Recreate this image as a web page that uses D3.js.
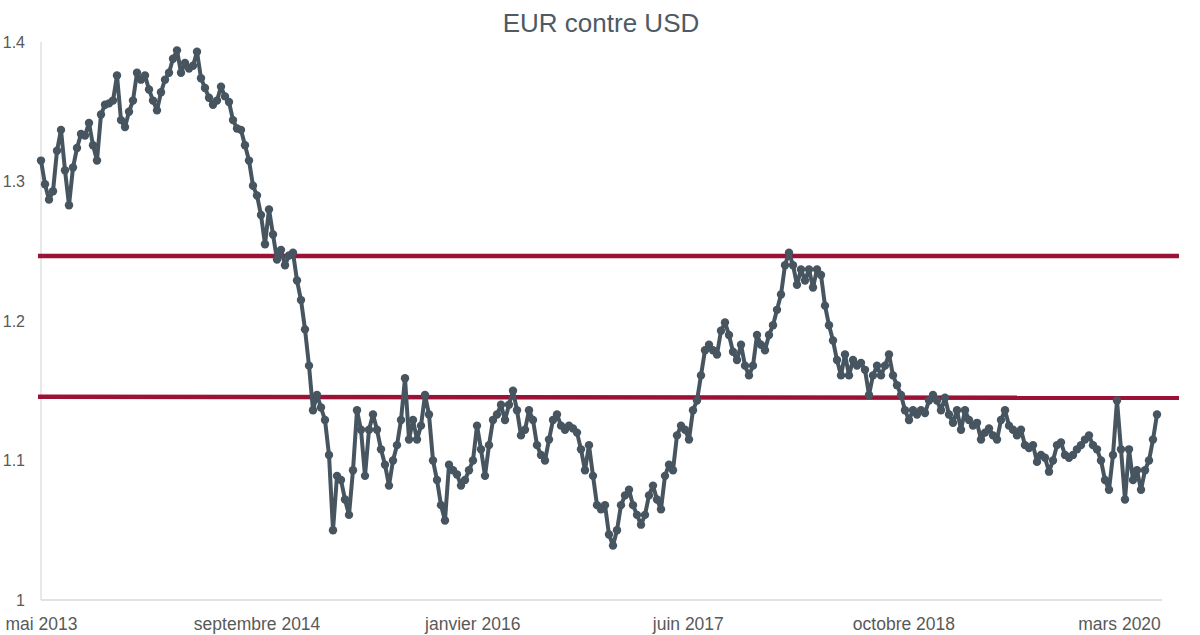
<!DOCTYPE html>
<html>
<head>
<meta charset="utf-8">
<script src="https://cdn.jsdelivr.net/npm/d3@7"></script>
<style>
  html, body { margin: 0; padding: 0; background: #ffffff; }
  svg { display: block; font-family: "Liberation Sans", Arial, Helvetica, sans-serif; }
</style>
</head>
<body>
<svg id="chart" width="1200" height="635"></svg>
<script>
// ---- data ----
const title = "EUR contre USD";

// EUR/USD rate, evenly spaced samples from May 2013 to early June 2020
const rates = [
  1.315,1.298,1.287,1.293,1.322,1.337,1.308,1.283,1.310,1.324,
  1.334,1.333,1.342,1.326,1.315,1.348,1.355,1.356,1.358,1.376,
  1.344,1.339,1.350,1.358,1.378,1.373,1.376,1.366,1.358,1.351,
  1.364,1.373,1.378,1.388,1.394,1.378,1.385,1.381,1.383,1.393,
  1.374,1.367,1.360,1.355,1.358,1.368,1.361,1.357,1.344,1.338,
  1.337,1.326,1.315,1.297,1.290,1.276,1.255,1.280,1.262,1.244,
  1.251,1.240,1.247,1.249,1.229,1.215,1.194,1.168,1.136,1.147,
  1.138,1.129,1.104,1.050,1.089,1.086,1.072,1.061,1.093,1.136,
  1.122,1.089,1.122,1.133,1.122,1.108,1.097,1.082,1.100,1.111,
  1.129,1.159,1.115,1.129,1.115,1.125,1.147,1.133,1.100,1.086,
  1.068,1.057,1.097,1.093,1.090,1.082,1.086,1.093,1.100,1.125,
  1.108,1.089,1.111,1.129,1.133,1.140,1.129,1.140,1.150,1.136,
  1.118,1.122,1.136,1.129,1.111,1.104,1.100,1.115,1.129,1.133,
  1.125,1.122,1.125,1.123,1.120,1.108,1.093,1.111,1.089,1.068,
  1.065,1.068,1.047,1.039,1.050,1.068,1.075,1.079,1.068,1.061,
  1.054,1.061,1.075,1.082,1.072,1.065,1.089,1.097,1.093,1.118,
  1.125,1.122,1.115,1.136,1.143,1.161,1.179,1.183,1.179,1.176,
  1.193,1.199,1.190,1.178,1.172,1.183,1.168,1.161,1.168,1.190,
  1.183,1.179,1.190,1.197,1.208,1.219,1.240,1.249,1.240,1.226,
  1.237,1.229,1.237,1.224,1.237,1.233,1.211,1.197,1.186,1.172,
  1.161,1.176,1.161,1.172,1.168,1.170,1.165,1.147,1.161,1.168,
  1.161,1.168,1.176,1.161,1.154,1.147,1.136,1.129,1.136,1.133,
  1.136,1.134,1.143,1.147,1.143,1.136,1.145,1.133,1.127,1.136,
  1.122,1.136,1.129,1.125,1.127,1.115,1.120,1.123,1.118,1.115,
  1.129,1.136,1.125,1.122,1.118,1.122,1.111,1.109,1.111,1.099,
  1.104,1.102,1.092,1.100,1.111,1.113,1.104,1.102,1.104,1.108,
  1.111,1.115,1.118,1.111,1.108,1.100,1.086,1.079,1.104,1.143,
  1.108,1.072,1.108,1.086,1.093,1.079,1.093,1.100,1.115,1.133
];

// x-axis category labels (one every ~54 samples)
const xLabels = ["mai 2013", "septembre 2014", "janvier 2016", "juin 2017", "octobre 2018", "mars 2020"];
const samplesPerLabel = 53.9;

// y-axis ticks
const yTicks = [1, 1.1, 1.2, 1.3, 1.4];

// horizontal reference levels (value at left end, value at right end)
const levelStart = [1.2466, 1.1457];
const levelEnd   = [1.2466, 1.1449];
// extent of the reference lines, in sample-index units
const levelExtent = [-0.75, 284.5];

// ---- drawing ----
const svg = d3.select("#chart");
const lineColor = "#46555f";
const levelColor = "#9b1237";
const textColor = "#595959";

const x = d3.scaleLinear().domain([0, rates.length - 1]).range([41, 1157]);
const y = d3.scaleLinear().domain([1, 1.4]).range([600, 42]);

// title
svg.append("text")
  .attr("x", 601).attr("y", 32)
  .attr("text-anchor", "middle")
  .attr("font-size", 26)
  .attr("fill", "#4e5a64")
  .text(title);

// axes lines
svg.append("line")
  .attr("x1", x(0)).attr("x2", x(0))
  .attr("y1", y(1.4)).attr("y2", y(1))
  .attr("stroke", "#d9d9d9").attr("stroke-width", 1.2);
svg.append("line")
  .attr("x1", x(0)).attr("x2", x(rates.length - 1) + 5)
  .attr("y1", y(1)).attr("y2", y(1))
  .attr("stroke", "#d9d9d9").attr("stroke-width", 1.5);

// y axis labels
const yAxis = d3.axisLeft(y).tickValues(yTicks).tickSize(0).tickPadding(0)
  .tickFormat(d => d3.format("~g")(d));
const gy = svg.append("g").attr("transform", "translate(25,0)").call(yAxis);
gy.select(".domain").remove();
gy.selectAll("text").attr("font-size", 16).attr("fill", textColor)
  .attr("font-family", "Liberation Sans, Arial, sans-serif");

// x axis labels
const xTickVals = xLabels.map((_, i) => i * samplesPerLabel);
const xAxis = d3.axisBottom(x).tickValues(xTickVals).tickSize(0).tickPadding(0)
  .tickFormat((d, i) => xLabels[i]);
const gx = svg.append("g").attr("transform", "translate(0,618)").call(xAxis);
gx.select(".domain").remove();
gx.selectAll("text").attr("font-size", 17.5).attr("fill", textColor)
  .attr("font-family", "Liberation Sans, Arial, sans-serif");

// reference levels
svg.append("g").selectAll("line")
  .data(levelStart.map((v, i) => ({ a: v, b: levelEnd[i] })))
  .join("line")
  .attr("x1", x(levelExtent[0])).attr("x2", x(levelExtent[1]))
  .attr("y1", d => y(d.a)).attr("y2", d => y(d.b))
  .attr("stroke", levelColor).attr("stroke-width", 4.5);

// series line
const line = d3.line().x((d, i) => x(i)).y(d => y(d));
svg.append("path")
  .datum(rates)
  .attr("d", line)
  .attr("fill", "none")
  .attr("stroke", lineColor)
  .attr("stroke-width", 4)
  .attr("stroke-linejoin", "round");

// series markers
svg.append("g").selectAll("circle")
  .data(rates)
  .join("circle")
  .attr("cx", (d, i) => x(i))
  .attr("cy", d => y(d))
  .attr("r", 4.2)
  .attr("fill", lineColor);
</script>
</body>
</html>
